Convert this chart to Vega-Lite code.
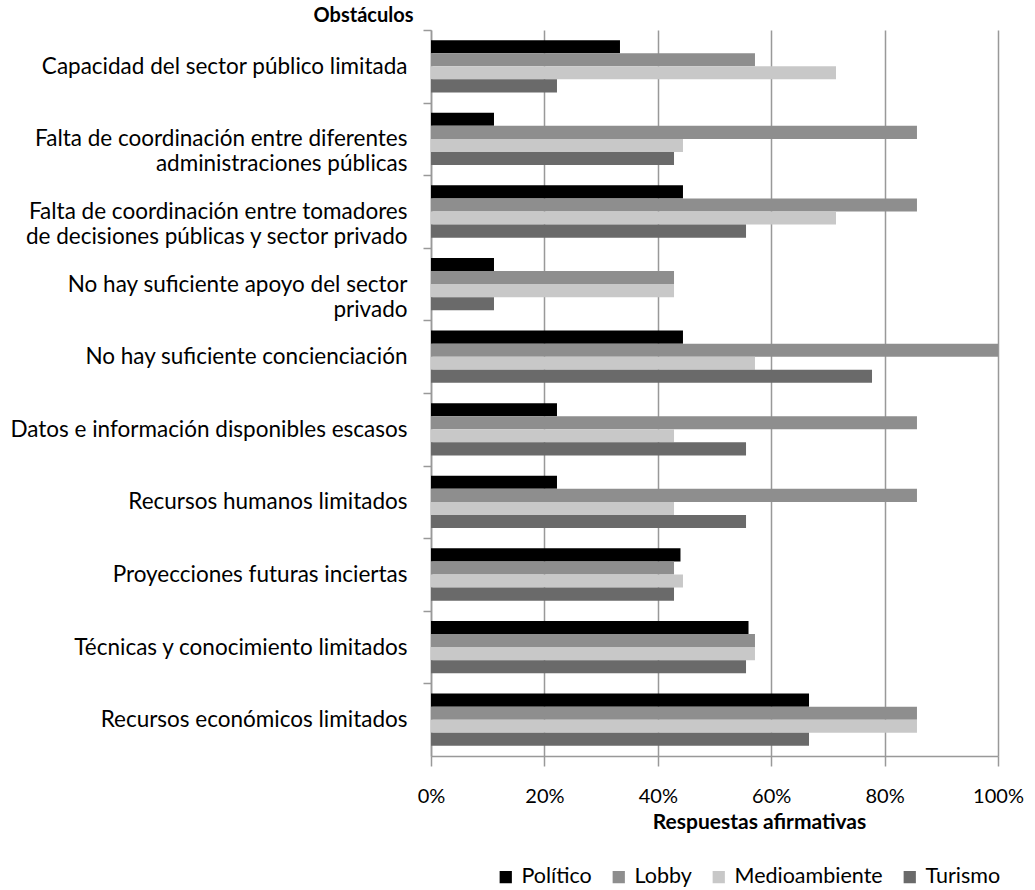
{
  "$schema": "https://vega.github.io/schema/vega-lite/v6.json",
  "width": 567,
  "height": 726,
  "autosize": {"type": "none"},
  "padding": {"left": 431, "top": 30, "right": 37, "bottom": 134},
  "config": {"font": "Lato", "view": {"stroke": null}},
  "data": {
    "values": [
      {"obstaculo": "Capacidad del sector público limitada", "grupo": "Político", "valor": 0.3333},
      {"obstaculo": "Capacidad del sector público limitada", "grupo": "Lobby", "valor": 0.5714},
      {"obstaculo": "Capacidad del sector público limitada", "grupo": "Medioambiente", "valor": 0.7143},
      {"obstaculo": "Capacidad del sector público limitada", "grupo": "Turismo", "valor": 0.2222},
      {"obstaculo": "Falta de coordinación entre diferentes administraciones públicas", "grupo": "Político", "valor": 0.1111},
      {"obstaculo": "Falta de coordinación entre diferentes administraciones públicas", "grupo": "Lobby", "valor": 0.8571},
      {"obstaculo": "Falta de coordinación entre diferentes administraciones públicas", "grupo": "Medioambiente", "valor": 0.4444},
      {"obstaculo": "Falta de coordinación entre diferentes administraciones públicas", "grupo": "Turismo", "valor": 0.4286},
      {"obstaculo": "Falta de coordinación entre tomadores de decisiones públicas y sector privado", "grupo": "Político", "valor": 0.4444},
      {"obstaculo": "Falta de coordinación entre tomadores de decisiones públicas y sector privado", "grupo": "Lobby", "valor": 0.8571},
      {"obstaculo": "Falta de coordinación entre tomadores de decisiones públicas y sector privado", "grupo": "Medioambiente", "valor": 0.7143},
      {"obstaculo": "Falta de coordinación entre tomadores de decisiones públicas y sector privado", "grupo": "Turismo", "valor": 0.5556},
      {"obstaculo": "No hay suficiente apoyo del sector privado", "grupo": "Político", "valor": 0.1111},
      {"obstaculo": "No hay suficiente apoyo del sector privado", "grupo": "Lobby", "valor": 0.4286},
      {"obstaculo": "No hay suficiente apoyo del sector privado", "grupo": "Medioambiente", "valor": 0.4286},
      {"obstaculo": "No hay suficiente apoyo del sector privado", "grupo": "Turismo", "valor": 0.1111},
      {"obstaculo": "No hay suficiente concienciación", "grupo": "Político", "valor": 0.4444},
      {"obstaculo": "No hay suficiente concienciación", "grupo": "Lobby", "valor": 1.0},
      {"obstaculo": "No hay suficiente concienciación", "grupo": "Medioambiente", "valor": 0.5714},
      {"obstaculo": "No hay suficiente concienciación", "grupo": "Turismo", "valor": 0.7778},
      {"obstaculo": "Datos e información disponibles escasos", "grupo": "Político", "valor": 0.2222},
      {"obstaculo": "Datos e información disponibles escasos", "grupo": "Lobby", "valor": 0.8571},
      {"obstaculo": "Datos e información disponibles escasos", "grupo": "Medioambiente", "valor": 0.4286},
      {"obstaculo": "Datos e información disponibles escasos", "grupo": "Turismo", "valor": 0.5556},
      {"obstaculo": "Recursos humanos limitados", "grupo": "Político", "valor": 0.2222},
      {"obstaculo": "Recursos humanos limitados", "grupo": "Lobby", "valor": 0.8571},
      {"obstaculo": "Recursos humanos limitados", "grupo": "Medioambiente", "valor": 0.4286},
      {"obstaculo": "Recursos humanos limitados", "grupo": "Turismo", "valor": 0.5556},
      {"obstaculo": "Proyecciones futuras inciertas", "grupo": "Político", "valor": 0.44},
      {"obstaculo": "Proyecciones futuras inciertas", "grupo": "Lobby", "valor": 0.4286},
      {"obstaculo": "Proyecciones futuras inciertas", "grupo": "Medioambiente", "valor": 0.4444},
      {"obstaculo": "Proyecciones futuras inciertas", "grupo": "Turismo", "valor": 0.4286},
      {"obstaculo": "Técnicas y conocimiento limitados", "grupo": "Político", "valor": 0.56},
      {"obstaculo": "Técnicas y conocimiento limitados", "grupo": "Lobby", "valor": 0.5714},
      {"obstaculo": "Técnicas y conocimiento limitados", "grupo": "Medioambiente", "valor": 0.5714},
      {"obstaculo": "Técnicas y conocimiento limitados", "grupo": "Turismo", "valor": 0.5556},
      {"obstaculo": "Recursos económicos limitados", "grupo": "Político", "valor": 0.6667},
      {"obstaculo": "Recursos económicos limitados", "grupo": "Lobby", "valor": 0.8571},
      {"obstaculo": "Recursos económicos limitados", "grupo": "Medioambiente", "valor": 0.8571},
      {"obstaculo": "Recursos económicos limitados", "grupo": "Turismo", "valor": 0.6667}
    ]
  },
  "mark": {"type": "bar"},
  "encoding": {
    "y": {
      "field": "obstaculo",
      "type": "nominal",
      "sort": null,
      "scale": {"paddingInner": 0.28, "paddingOuter": 0.14},
      "axis": {
        "title": "Obstáculos",
        "titleAngle": 0,
        "titleAlign": "right",
        "titleBaseline": "middle",
        "titleX": -18,
        "titleY": -15,
        "titleFontSize": 20,
        "titleFontWeight": "bold",
        "titleColor": "#000000",
        "bandPosition": 0.5,
        "tickOffset": -36.3,
        "labelOffset": 36.3,
        "tickSize": 8,
        "tickColor": "#999999",
        "tickWidth": 1.5,
        "domainColor": "#999999",
        "domainWidth": 1.5,
        "labelFontSize": 22.5,
        "labelColor": "#000000",
        "labelPadding": 16,
        "labelLimit": 600,
        "labelLineHeight": 25,
        "labelExpr": "datum.label == 'Falta de coordinación entre diferentes administraciones públicas' ? ['Falta de coordinación entre diferentes', 'administraciones públicas'] : datum.label == 'Falta de coordinación entre tomadores de decisiones públicas y sector privado' ? ['Falta de coordinación entre tomadores', 'de decisiones públicas y sector privado'] : datum.label == 'No hay suficiente apoyo del sector privado' ? ['No hay suficiente apoyo del sector', 'privado'] : datum.label"
      }
    },
    "yOffset": {"field": "grupo", "sort": ["Político", "Lobby", "Medioambiente", "Turismo"]},
    "x": {
      "field": "valor",
      "type": "quantitative",
      "scale": {"domain": [0, 1]},
      "axis": {
        "values": [0, 0.2, 0.4, 0.6, 0.8, 1],
        "format": "%",
        "labelFlush": false,
        "grid": true,
        "gridColor": "#999999",
        "gridWidth": 1.5,
        "domainColor": "#999999",
        "domainWidth": 1.5,
        "tickColor": "#999999",
        "tickWidth": 1.5,
        "tickSize": 10,
        "labelFontSize": 20,
        "labelColor": "#000000",
        "labelPadding": 20,
        "title": "Respuestas afirmativas",
        "titleFontSize": 21,
        "titleFontWeight": "bold",
        "titleColor": "#000000",
        "titleX": 328,
        "titleY": 66,
        "titleBaseline": "middle"
      }
    },
    "color": {
      "field": "grupo",
      "type": "nominal",
      "sort": ["Político", "Lobby", "Medioambiente", "Turismo"],
      "scale": {
        "domain": ["Político", "Lobby", "Medioambiente", "Turismo"],
        "range": ["#000000", "#8e8e8e", "#c8c8c8", "#6a6a6a"]
      },
      "legend": {
        "orient": "none",
        "legendX": 64,
        "legendY": 836,
        "direction": "horizontal",
        "title": null,
        "symbolType": "square",
        "symbolSize": 150,
        "symbolStrokeWidth": 0,
        "labelFontSize": 21.5,
        "labelColor": "#000000",
        "labelOffset": 5,
        "columnPadding": 16
      }
    }
  }
}
